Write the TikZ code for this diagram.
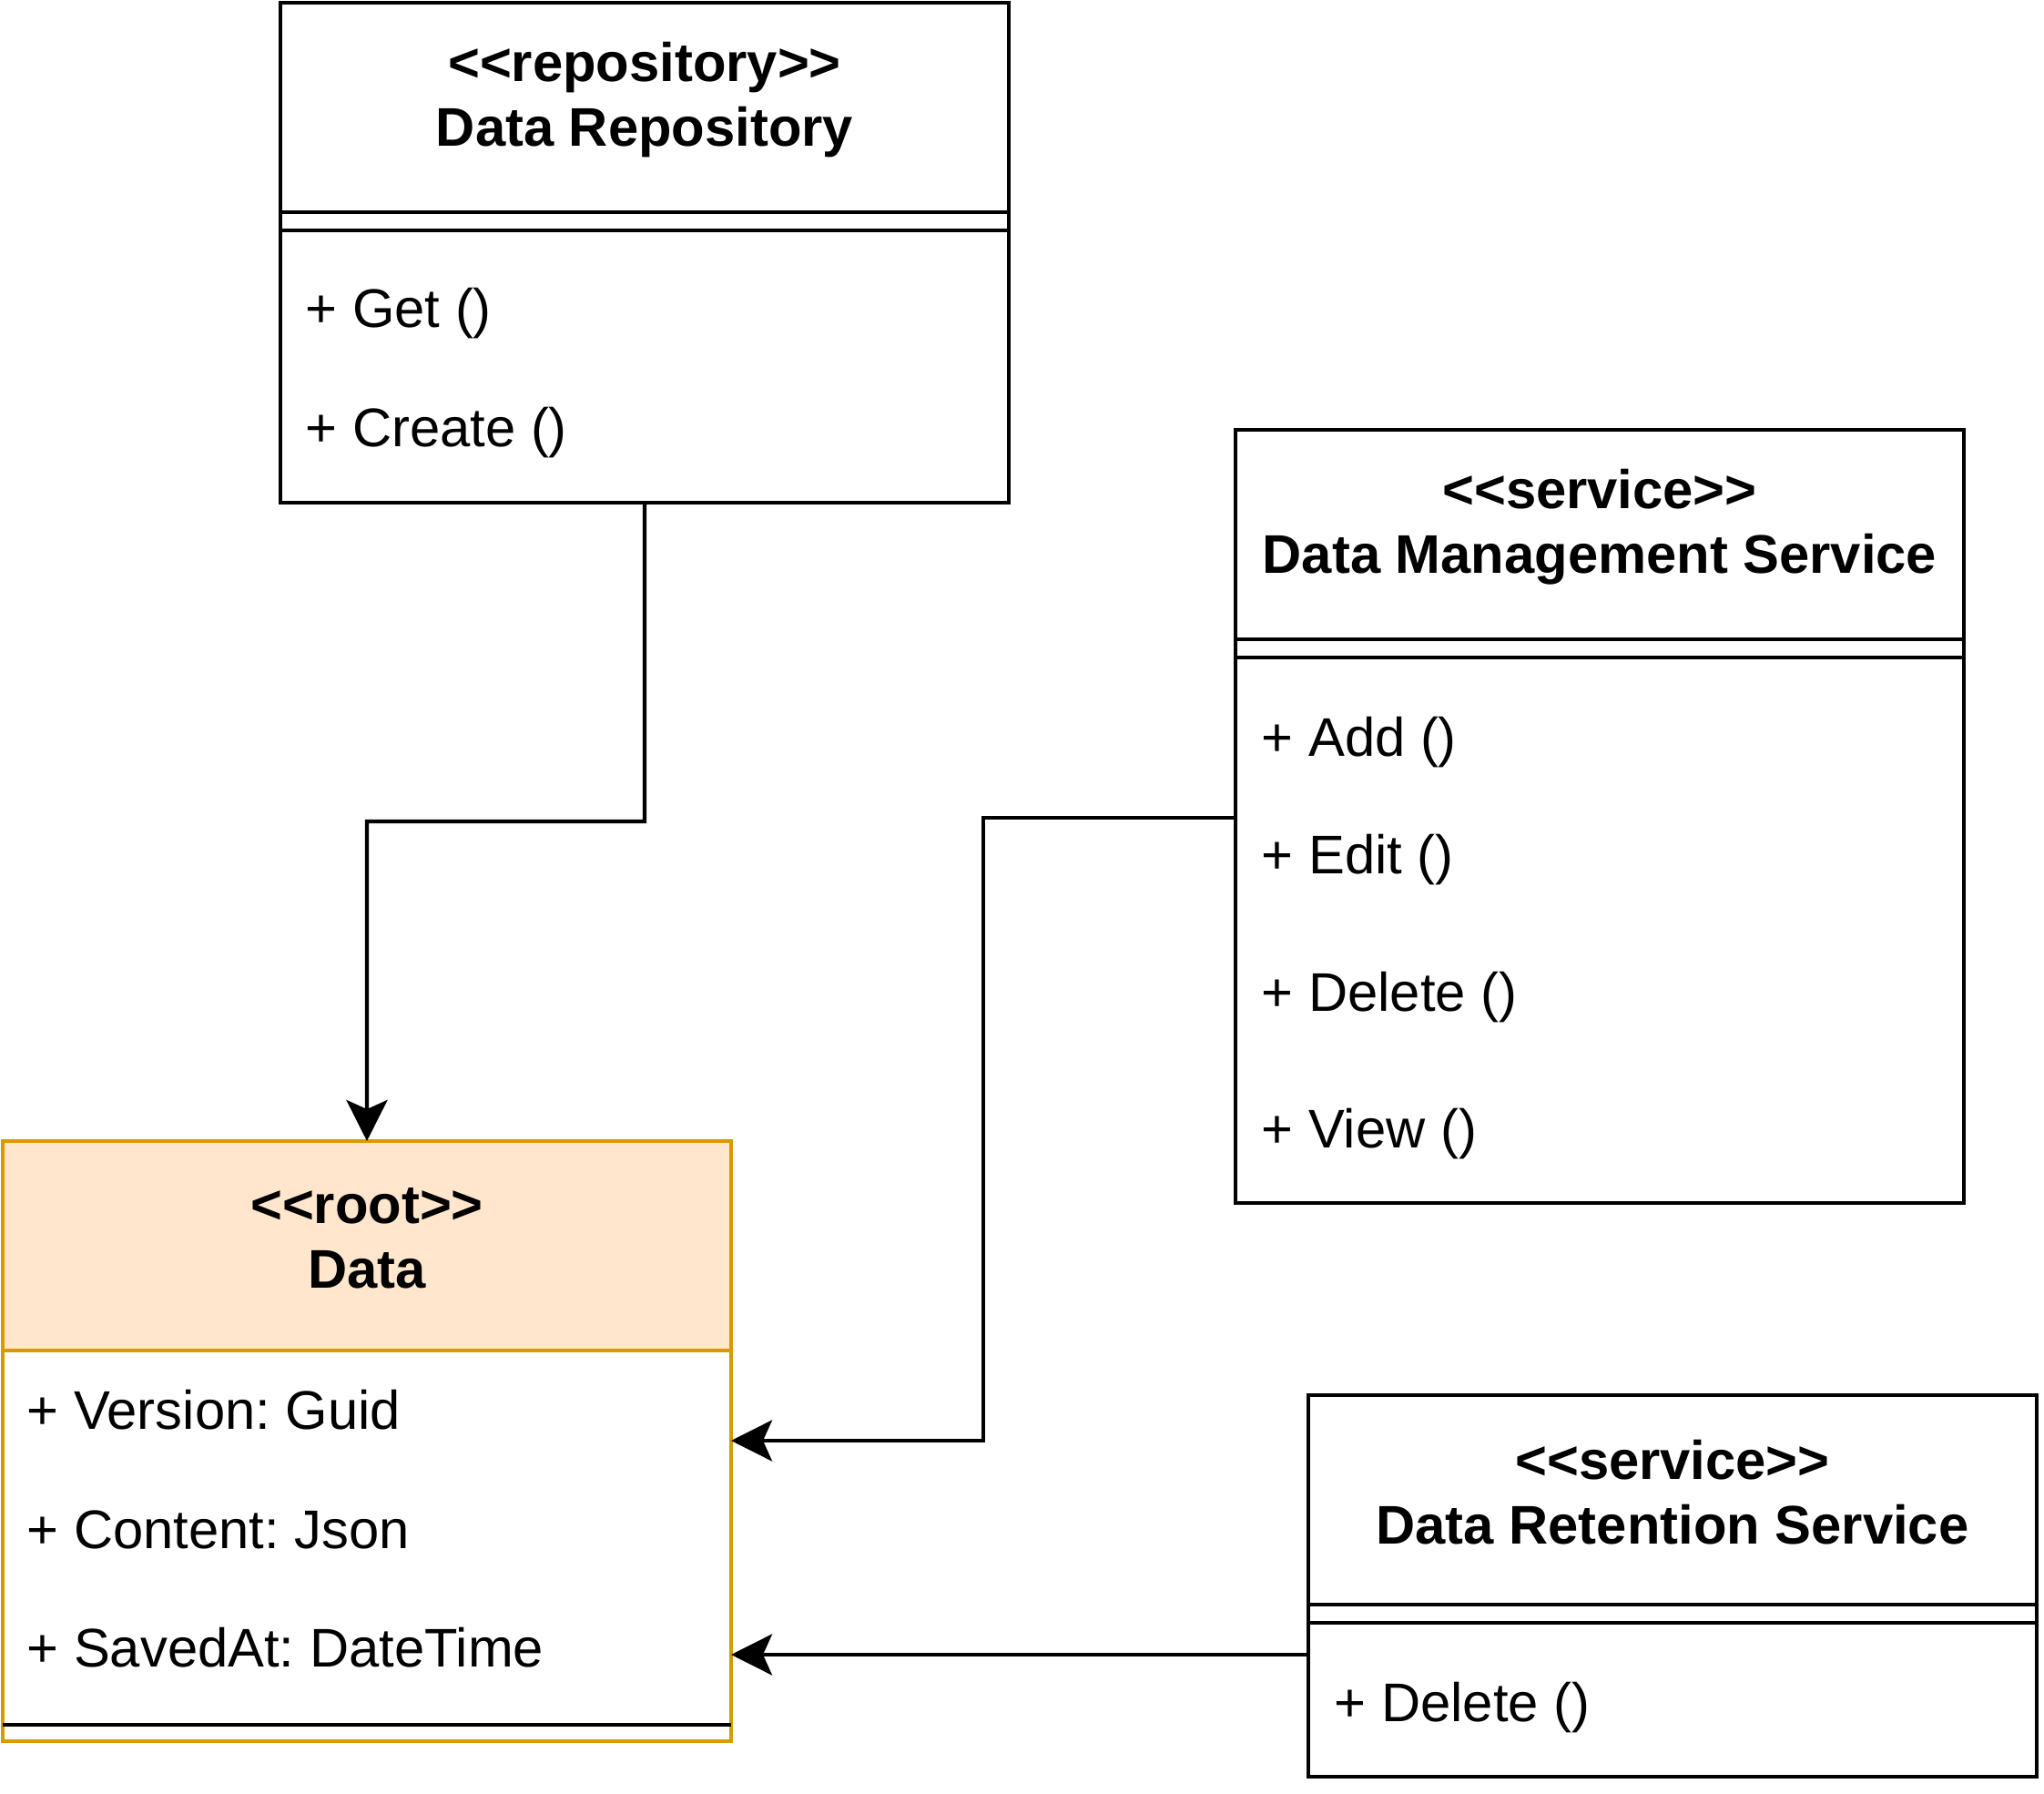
\documentclass[tikz,border=0pt]{standalone}
\usepackage{fontspec}
\setmainfont{Liberation Sans}
\usetikzlibrary{arrows.meta,positioning}
\definecolor{peach}{HTML}{FFE6CC}
\definecolor{ochre}{HTML}{D79B00}
\frenchspacing
% stereotype text, kern keeps << and >> from turning into guillemets
\newcommand{\stereo}[1]{<\kern0pt<#1>\kern0pt>}

\tikzset{
  box/.style={draw,line width=1.25pt,minimum width=8cm,inner sep=0pt,outer sep=0pt},
  classhead/.style={box,minimum height=2.3cm,anchor=north west},
  classsep/.style={box,minimum height=0.2cm},
  classbody/.style={box,minimum height=#1},
  title/.style={font=\bfseries\fontsize{17}{20.2}\selectfont,align=center,inner sep=0pt},
  member/.style={font=\fontsize{17}{20.2}\selectfont,anchor=base west,inner sep=0pt},
  link/.style={line width=1.25pt,-{Stealth[length=4.5mm,width=4.5mm,inset=1mm]}}
}

\begin{document}
\begin{tikzpicture}
    \useasboundingbox (0,0) rectangle (22.45,-19.70);

    % repository
    \node[classhead] (repo) at (3.08,-0.03) {};
    \node[classsep,below=0pt of repo] (repo-sep) {};
    \node[classbody=2.99cm,below=0pt of repo-sep] (repo-body) {};
    \node[title] (repo-title) at ([yshift=0.08cm]repo.center) {\stereo{repository}\\Data Repository};
    \foreach \y/\t [count=\i] in {3.60/Get (),4.91/Create ()}
      \node[member] (repo-m\i) at (3.35,-\y) {+ \t};

    % management service
    \node[classhead] (mgmt) at (13.57,-4.72) {};
    \node[classsep,below=0pt of mgmt] (mgmt-sep) {};
    \node[classbody=5.99cm,below=0pt of mgmt-sep] (mgmt-body) {};
    \node[title] (mgmt-title) at ([yshift=0.08cm]mgmt.center) {\stereo{service}\\Data Management Service};
    \foreach \y/\t [count=\i] in {8.31/Add (),9.60/Edit (),11.11/Delete (),12.61/View ()}
      \node[member] (mgmt-m\i) at (13.85,-\y) {+ \t};

    % root entity
    \node[classhead,draw=ochre,fill=peach] (data) at (0.03,-12.53) {};
    \node[classbody=4.11cm,draw=ochre,fill=white,below=0pt of data] (data-body) {};
    \node[classsep,draw=ochre,minimum height=0.18cm,below=0pt of data-body] (data-sep) {};
    \draw[line width=1.25pt] (data-sep.north west) -- (data-sep.north east);
    \node[title] (data-title) at ([yshift=0.08cm]data.center) {\stereo{root}\\Data};
    \foreach \y/\t [count=\i] in {15.70/Version: Guid,17.01/Content: Json,18.31/SavedAt: DateTime}
      \node[member] (data-m\i) at (0.29,-\y) {+ \t};

    % retention service
    \node[classhead] (keep) at (14.37,-15.32) {};
    \node[classsep,below=0pt of keep] (keep-sep) {};
    \node[classbody=1.69cm,below=0pt of keep-sep] (keep-body) {};
    \node[title] (keep-title) at ([yshift=0.08cm]keep.center) {\stereo{service}\\Data Retention Service};
    \node[member] (keep-m1) at (14.65,-18.91) {+ Delete ()};

    % links
    \coordinate (repo-bend) at (7.08,-9.02);
    \coordinate (mgmt-bend) at (10.80,-8.98);
    \coordinate (mgmt-low) at (10.80,-15.82);
    \coordinate (keep-line) at (12,-18.17);
    \draw[link] (repo-body.south) -- (repo-bend) -| (data.north);
    \draw[link] (mgmt-body.west |- mgmt-bend) -- (mgmt-bend) -- (mgmt-low) -- (data-body.east |- mgmt-low);
    \draw[link] (keep-body.west |- keep-line) -- (data-body.east |- keep-line);
\end{tikzpicture}
\end{document}
